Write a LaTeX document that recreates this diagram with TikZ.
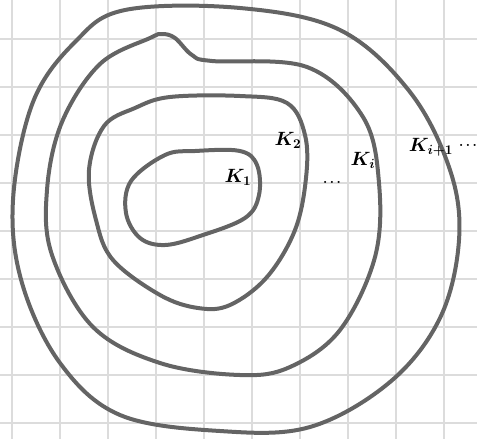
\documentclass[tikz,border=0pt]{standalone}
\usepackage{xcolor}
\usepackage{tikz}
\usetikzlibrary{positioning}

\definecolor{pen}{HTML}{646464}
\definecolor{paper}{HTML}{DCDCDC}

\tikzset{
  gridline/.style={draw=paper, line width=1.5pt},
  level/.style={draw=pen, line width=3pt, line join=round},
  lbl/.style={font=\Large\boldmath, inner sep=0pt},
  gap/.style={inner sep=0pt, anchor=base, font=\boldmath},
}

\begin{document}
\begin{tikzpicture}[x=0.75pt, y=-0.75pt]
  \useasboundingbox (0,0) rectangle (477,439);

  \foreach \gx in {12,60,...,444} \draw[gridline] (\gx,0) -- (\gx,439);
  \foreach \gy in {39,87,...,423} \draw[gridline] (0,\gy) -- (477,\gy);

  % K_{i+1}
  \draw[level] plot[smooth cycle, tension=0.6] coordinates {
    (125,10) (240,8) (340,30) (410,92) (450,170) (459,240) (440,318)
    (390,382) (310,427) (220,431) (120,415) (60,363) (22,283) (13,200)
    (33,102) (75,42)};

  % K_i
  \draw[level] plot[smooth cycle, tension=0.6] coordinates {
    (150,38) (162,34) (175,38) (192,55) (212,61) (307,67) (363,117)
    (379,183) (375,257) (340,330) (290,367) (240,375) (160,363) (93,327)
    (52,255) (47,190) (62,122) (100,64)};

  % K_2
  \draw[level] plot[smooth cycle, tension=0.6] coordinates {
    (170,97) (240,96) (287,103) (305,135) (306,178) (295,230) (267,277)
    (230,305) (198,308) (160,295) (113,260) (96,220) (89,170) (104,126)
    (135,108)};

  % K_1
  \draw[level] plot[smooth cycle, tension=0.6] coordinates {
    (165,155) (195,151) (240,151) (257,165) (259,195) (245,218) (200,236)
    (165,245) (140,238) (126,213) (131,181)};

  \node[lbl] (k1) at (238,177) {$K_1$};
  \node[lbl] (k2) at (288,140) {$K_2$};
  \node[gap] (gap1) at (332,183) {$\dots$};
  \node[lbl] (ki) at (363,160) {$K_i$};
  \node[lbl] (kinext) at (431,147) {$K_{i+1}$};
  \node[gap] (gap2) at (468,146) {$\dots$};
\end{tikzpicture}
\end{document}
